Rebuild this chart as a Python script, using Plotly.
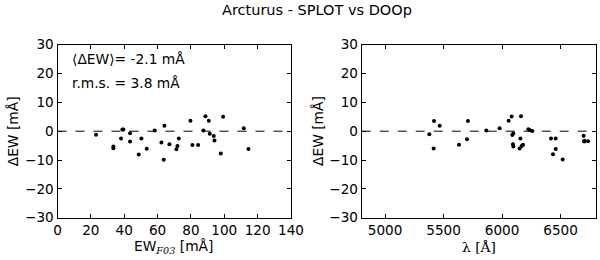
import plotly.graph_objects as go

# Left panel: EW_F03 [mA] vs Delta EW [mA]
ew_f03 = [23.1, 33.5, 33.5, 38.1, 38.9, 39.5, 43.5, 43.5, 48.7, 50.3, 53.5, 58.3,
          62.3, 64.1, 63.7, 67.1, 71.3, 71.9, 72.7, 79.7, 80.9, 84.3, 87.5, 88.7,
          90.7, 91.3, 93.7, 94.1, 97.9, 99.3, 111.7, 114.5]
dew_left = [-1.2, -5.3, -5.9, -2.5, 0.6, 0.6, -0.7, -3.6, -8.1, -2.5, -6.1, 0.2,
            -3.9, 1.9, -9.9, -4.5, -6.3, -5.1, -2.5, 3.6, -4.8, -4.8, 0.2, 5.2,
            3.6, -0.9, -1.7, -3.2, -7.7, 5.0, 1.0, -6.2]

# Right panel: wavelength [A] vs Delta EW [mA]
wavelength = [5378, 5418, 5415, 5467, 5632, 5700, 5708, 5865, 5979, 6056, 6082, 6087,
              6096, 6093, 6096, 6156, 6162, 6150, 6167, 6179, 6224, 6239, 6258, 6418,
              6458, 6458, 6435, 6518, 6697, 6703, 6702, 6734]
dew_right = [-1.1, 3.5, -6.0, 1.9, -4.7, -2.8, 3.5, 0.2, 1.0, 3.6, 5.1, -1.3,
             -0.8, -4.5, -5.3, -2.5, 5.2, -6.0, -5.1, -4.7, 0.7, 0.3, 0.1, -2.5,
             -2.5, -6.2, -8.0, -9.8, -1.6, -3.3, -3.6, -3.5]

mean_dew = -2.1
rms_dew = 3.8

left_xticks = [0, 20, 40, 60, 80, 100, 120, 140]
right_xticks = [5000, 5500, 6000, 6500]
yticks = [-30, -20, -10, 0, 10, 20, 30]

FONT = "DejaVu Sans"
SERIF = "DejaVu Serif"
W, H = 600, 260
fig = go.Figure()
marker = dict(color="black", size=4)
fig.add_trace(go.Scatter(x=ew_f03, y=dew_left, mode="markers", marker=marker,
                         xaxis="x", yaxis="y", showlegend=False))
fig.add_trace(go.Scatter(x=wavelength, y=dew_right, mode="markers", marker=marker,
                         xaxis="x2", yaxis="y2", showlegend=False))

axis_common = dict(showgrid=False, zeroline=False, showline=True, linecolor="black",
                   linewidth=1, mirror="ticks", ticks="inside", ticklen=4,
                   tickcolor="black", automargin=False,
                   tickfont=dict(family=FONT, size=13.6, color="black"))

ydom = [1 - 217.7 / H, 1 - 44.7 / H]
f = dict(family=FONT, size=13.8, color="black")


def px_ann(text, x, y, angle=0, font=f):
    return dict(text=text, xref="paper", yref="paper", x=x / W, y=1 - y / H,
                xanchor="center", yanchor="middle", showarrow=False,
                textangle=angle, font=font)


fig.update_layout(
    width=W, height=H,
    margin=dict(l=0, r=0, t=0, b=0, autoexpand=False),
    paper_bgcolor="white", plot_bgcolor="white",
    font=f,
    xaxis=dict(domain=[57.5 / W, 291 / W], range=[0, 140], tickvals=left_xticks,
               anchor="y", **axis_common),
    yaxis=dict(domain=ydom, range=[-30, 30], tickvals=yticks, anchor="x", **axis_common),
    xaxis2=dict(domain=[361.7 / W, 595.7 / W], range=[4800, 6800], tickvals=right_xticks,
                anchor="y2", **axis_common),
    yaxis2=dict(domain=ydom, range=[-30, 30], tickvals=yticks, anchor="x2", **axis_common),
    shapes=[
        dict(type="line", xref="x domain", yref="y", x0=0, x1=1, y0=0, y1=0,
             line=dict(color="black", width=1, dash="dash")),
        dict(type="line", xref="x2 domain", yref="y2", x0=0, x1=1, y0=0, y1=0,
             line=dict(color="black", width=1, dash="dash")),
    ],
    annotations=[
        px_ann("Arcturus - SPLOT vs DOOp", 317, 10, font=dict(family=FONT, size=14.5, color="black")),
        px_ann("EW<sub><i><span style='font-family:DejaVu Serif'>F03</span></i></sub> [mÅ]", 173, 247),
        px_ann("λ [Å]", 479, 247, font=dict(family=SERIF, size=13.8, color="black")),
        px_ann("ΔEW [mÅ]", 13.3, 131, angle=-90),
        px_ann("ΔEW [mÅ]", 318, 131, angle=-90),
        dict(text=f"⟨ΔEW⟩= {mean_dew} mÅ", xref="x domain", yref="y domain",
             x=0.055, y=0.92, xanchor="left", yanchor="middle", showarrow=False, font=f),
        dict(text=f"r.m.s. = {rms_dew} mÅ", xref="x domain", yref="y domain",
             x=0.055, y=0.78, xanchor="left", yanchor="middle", showarrow=False, font=f),
    ],
)

fig.write_html("out.html", config={"displayModeBar": False},
               post_script="document.body.style.margin='0';")
